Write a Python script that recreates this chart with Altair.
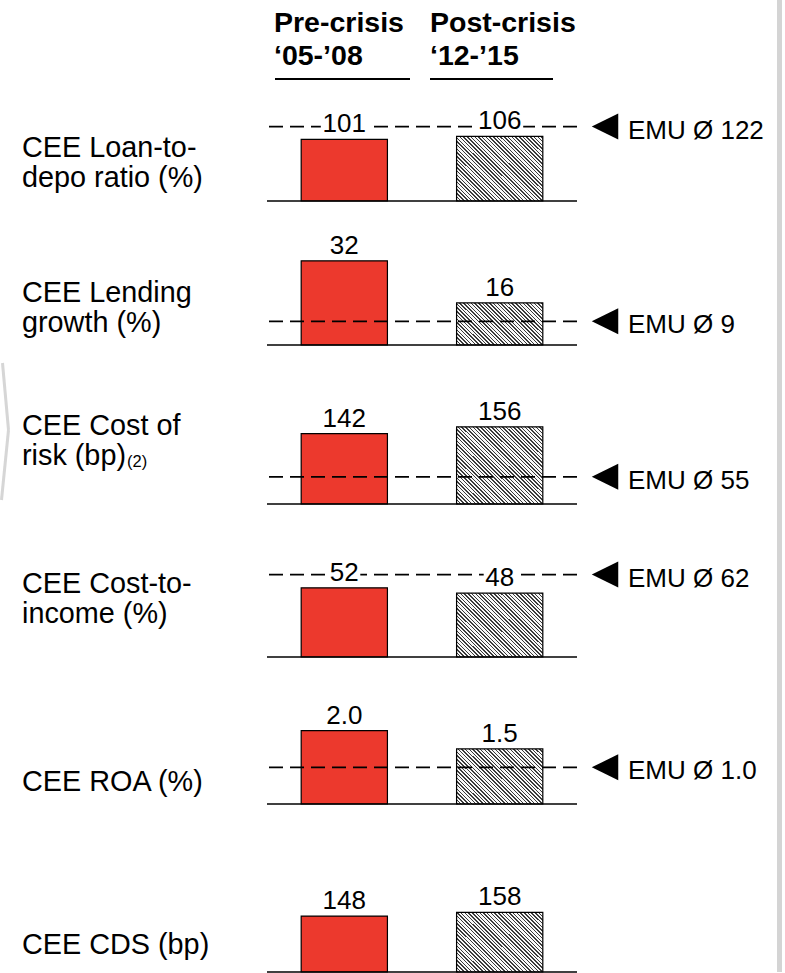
import altair as alt
import pandas as pd

# ---------------- data ----------------
metric_lines = [
    ["CEE Loan-to-", "depo ratio (%)"],
    ["CEE Lending", "growth (%)"],
    ["CEE Cost of", "risk (bp)"],
    ["CEE Cost-to-", "income (%)"],
    ["CEE ROA (%)"],
    ["CEE CDS (bp)"],
]
footnotes = ["", "", "(2)", "", "", ""]
periods = ["Pre-crisis", "Post-crisis"]
period_years = ["\u201805-\u201908", "\u201812-\u201915"]
pre_crisis = [101, 32, 142, 52, 2.0, 148]
post_crisis = [106, 16, 156, 48, 1.5, 158]
emu_average = [122, 9, 55, 62, 1.0, None]
decimals = [0, 0, 0, 0, 1, 0]

# ---------------- layout / style ----------------
FONT = "Liberation Sans"
RED = "#EC392D"
GREY_BAR = "#d4d4d4"
PLOT_W = 310
HEADER_H = 95
row_bottom = [201, 345, 504, 657, 804, 972]
row_top = [HEADER_H] + row_bottom[:-1]
px_per_unit = [0.61, 2.63, 0.495, 1.33, 36.7, 0.378]
label_baseline = [157, 302, 435, 593, 791, 954]
BAR_W = 86
X0 = 267  # left edge of the bar area on the page

one = pd.DataFrame({"k": [0]})


def hatch(h, w=BAR_W, spacing=3.7, frac=0.4, dark="#3a3a3a", light="#f7f7f7"):
    """Diagonal stripes as a hard-stop linear gradient (45 degrees on screen)."""
    r = h / w
    k = (1 + r) / (1 + r * r)
    n = (w + h) / spacing
    stops = []
    j = 0
    while j / n < 1:
        a = j / n
        b = min((j + frac) / n, 1)
        c = min((j + 1) / n, 1)
        stops += [
            alt.GradientStop(color=dark, offset=a),
            alt.GradientStop(color=dark, offset=b),
            alt.GradientStop(color=light, offset=b),
            alt.GradientStop(color=light, offset=c),
        ]
        j += 1
    return alt.LinearGradient(gradient="linear", stops=stops,
                              x1=0, y1=1, x2=k, y2=1 - k * r)


def side_bar(h):
    return alt.Chart(one).mark_rect(color=GREY_BAR).encode(
        x=alt.value(777 - X0), x2=alt.value(782 - X0),
        y=alt.value(0), y2=alt.value(h))


# ---------------- column headers ----------------
header_x = [274, 430]
underline_x = [(275, 410), (430, 553)]
header_layers = []
for j in range(2):
    header_layers.append(
        alt.Chart(one).mark_text(
            text=[periods[j], period_years[j]], font=FONT, fontSize=28.5,
            fontWeight="bold", align="left", baseline="alphabetic",
            lineHeight=33, color="black"
        ).encode(x=alt.value(header_x[j] - X0), y=alt.value(32))
    )
    header_layers.append(
        alt.Chart(one).mark_rule(color="black", strokeWidth=2).encode(
            x=alt.value(underline_x[j][0] - X0), x2=alt.value(underline_x[j][1] - X0),
            y=alt.value(79))
    )
header = alt.layer(*header_layers, side_bar(HEADER_H)).properties(
    width=PLOT_W, height=HEADER_H)


# ---------------- one panel per metric ----------------
def row_panel(i):
    top = row_top[i]
    h = row_bottom[i] - top
    dmax = h / px_per_unit[i]
    fmt = f".{decimals[i]}f"

    df = pd.DataFrame({"period": periods, "value": [pre_crisis[i], post_crisis[i]]})
    yscale = alt.Scale(domain=[0, dmax], nice=False, zero=True)
    xenc = alt.X("period:N", sort=periods, axis=None,
                 scale=alt.Scale(domain=periods, paddingInner=0.445, paddingOuter=0.22))
    yenc = alt.Y("value:Q", axis=None, scale=yscale)
    base = alt.Chart(df).encode(x=xenc, y=yenc)

    pre_bar = base.transform_filter(alt.datum.period == periods[0]).mark_bar(
        fill=RED, stroke="black", strokeWidth=1.2)
    post_bar = base.transform_filter(alt.datum.period == periods[1]).mark_bar(
        fill=hatch(post_crisis[i] * px_per_unit[i]), stroke="black", strokeWidth=1.2)

    axis_line = alt.Chart(one).mark_rule(color="black", strokeWidth=1.3).encode(
        y=alt.Y(datum=0, type="quantitative", scale=yscale, axis=None))

    layers = [pre_bar, post_bar, axis_line]

    if emu_average[i] is not None:
        emu_df = pd.DataFrame({"value": [emu_average[i]]})
        emu = alt.Chart(emu_df).transform_calculate(
            label="'EMU \u00d8 ' + format(datum.value, '" + fmt + "')")
        emu_y = alt.Y("value:Q", axis=None, scale=yscale)
        layers.append(emu.mark_rule(color="black", strokeWidth=1.8,
                                    strokeDash=[14, 7]).encode(y=emu_y))
        layers.append(emu.mark_point(shape="M1,-0.98L-1,0L1,0.98Z", size=700,
                                     filled=True, fill="black", strokeWidth=0,
                                     opacity=1).encode(x=alt.value(605 - X0), y=emu_y))
        layers.append(emu.mark_text(font=FONT, fontSize=26, align="left",
                                    baseline="alphabetic", dy=12, color="black").encode(
            x=alt.value(628 - X0), y=emu_y, text="label:N"))

    knock = base.mark_tick(color="white", opacity=1, thickness=22,
                           size=15 * len(f"{post_crisis[i]:{fmt}}") + 2,
                           yOffset=-17)
    labels = base.mark_text(font=FONT, fontSize=26, baseline="alphabetic",
                            dy=-7, color="black").encode(
        text=alt.Text("value:Q", format=fmt))
    layers += [knock, labels]

    layers.append(alt.Chart(one).mark_text(
        text=metric_lines[i], font=FONT, fontSize=28.8, align="left",
        baseline="alphabetic", lineHeight=30, color="black"
    ).encode(x=alt.value(22 - X0), y=alt.value(label_baseline[i] - top)))

    if footnotes[i]:
        layers.append(alt.Chart(one).mark_text(
            text=footnotes[i], font=FONT, fontSize=16.5, align="left",
            baseline="alphabetic", color="black"
        ).encode(x=alt.value(127 - X0), y=alt.value(467 - top)))

    if i == 2:
        # faint chevron at the left edge
        pts = [(2.5, 363), (8.5, 430), (1.5, 500)]
        for (xa, ya), (xb, yb) in zip(pts[:-1], pts[1:]):
            layers.append(alt.Chart(one).mark_rule(color="#d6d6d6", strokeWidth=3).encode(
                x=alt.value(xa - X0), y=alt.value(ya - top),
                x2=alt.value(xb - X0), y2=alt.value(yb - top)))

    layers.append(side_bar(h))
    return alt.layer(*layers).properties(width=PLOT_W, height=h)


rows = [row_panel(i) for i in range(len(metric_lines))]

chart = alt.vconcat(header, *rows, spacing=0, bounds="flush").properties(
    padding={"left": 0, "top": 0, "right": 0, "bottom": 0}
).configure(background="white").configure_view(stroke=None, strokeWidth=0)

chart.save("out.html", embed_options={"renderer": "svg", "actions": False})
